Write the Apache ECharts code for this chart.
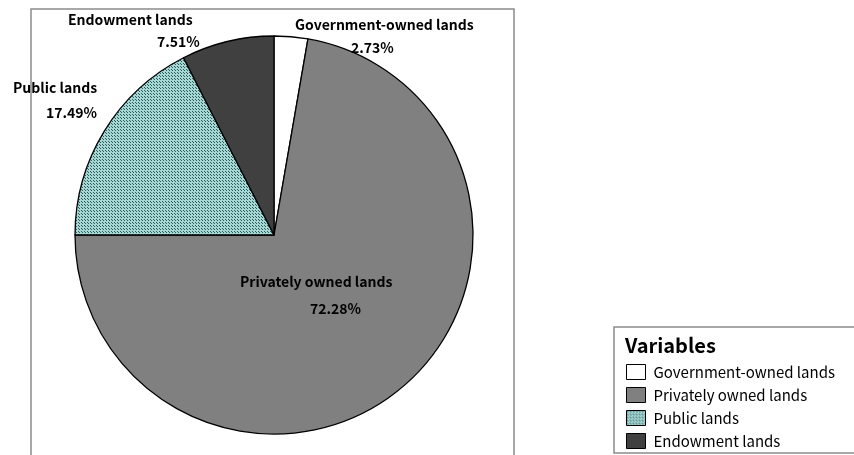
<!DOCTYPE html>
<html><head><meta charset="utf-8">
<script src="https://cdn.jsdelivr.net/npm/echarts@6/dist/echarts.min.js"></script>
<style>html,body{margin:0;padding:0;background:#fff}#c{width:854px;height:455px}</style>
</head><body><div id="c"></div>
<script>
// ---- data ----
const categories = ['Government-owned lands', 'Privately owned lands', 'Public lands', 'Endowment lands'];
const shares = [2.73, 72.28, 17.49, 7.51];
const legendTitle = 'Variables';

// ---- layout / style (not data) ----
const FONT = '"Noto Sans CJK JP", "Noto Sans", sans-serif';
const LABEL_LAYOUT = [
  {x: 295, y: 25, gap: 23, indent: 56},
  {x: 240, y: 282, gap: 27, indent: 70},
  {x: 13, y: 88, gap: 25, indent: 33},
  {x: 68, y: 20, gap: 22, indent: 89}
];

function makePattern() {
  const c = document.createElement('canvas');
  c.width = 3; c.height = 3;
  const g = c.getContext('2d');
  g.fillStyle = '#a3d8d4'; g.fillRect(0, 0, 3, 3);
  g.fillStyle = '#35585a';
  [[0,0],[1,1]].forEach(([x,y]) => g.fillRect(x, y, 1, 1));
  return c;
}
const publicPattern = {image: makePattern(), repeat: 'repeat'};
const COLORS = ['#ffffff', '#808080', publicPattern, '#404040'];

const rich = {n: {fontFamily: FONT, fontWeight: 'bold', fontSize: 14, lineHeight: 20, color: '#000'}};
LABEL_LAYOUT.forEach((L, i) => {
  rich['p' + i] = {fontFamily: FONT, fontWeight: 'bold', fontSize: 14, color: '#000',
    lineHeight: 2 * (L.gap - 10), padding: [0, 0, 0, L.indent]};
});

const chart = echarts.init(document.getElementById('c'), null, {renderer: 'canvas'});
chart.setOption({
  animation: false,
  backgroundColor: '#fff',
  title: {
    text: legendTitle, left: 625, top: 335, padding: 0,
    textStyle: {fontFamily: FONT, fontWeight: 'bold', fontSize: 20, color: '#000'}
  },
  legend: {
    orient: 'vertical', left: 626, top: 364, padding: 0,
    itemWidth: 19, itemHeight: 15, itemGap: 7, icon: 'rect',
    data: categories,
    itemStyle: {borderColor: '#000', borderWidth: 1},
    textStyle: {fontFamily: FONT, fontSize: 15, color: '#000', padding: [0, 0, 0, 3]},
    selectedMode: false
  },
  graphic: [
    {type: 'rect', silent: true, shape: {x: 31, y: 9, width: 483, height: 470},
     style: {fill: 'none', stroke: '#8c8c8c', lineWidth: 1.5}},
    {type: 'rect', silent: true, shape: {x: 614, y: 327, width: 260, height: 126},
     style: {fill: 'none', stroke: '#8c8c8c', lineWidth: 1.5}}
  ],
  series: [{
    type: 'pie',
    center: [274, 235],
    radius: 199,
    startAngle: 90,
    clockwise: true,
    avoidLabelOverlap: false,
    silent: true,
    data: categories.map((name, i) => ({name, value: shares[i], itemStyle: {color: COLORS[i]}})),
    itemStyle: {borderColor: '#000', borderWidth: 1.3},
    label: {
      show: true,
      position: 'outside',
      formatter: p => `{n|${p.name}}\n{p${p.dataIndex}|${p.value.toFixed(2)}%}`,
      rich
    },
    labelLine: {show: false},
    labelLayout: params => {
      const L = LABEL_LAYOUT[params.dataIndex];
      return {x: L.x, y: L.y - 10, align: 'left', verticalAlign: 'top'};
    },
    emphasis: {disabled: true}
  }]
});
</script></body></html>
